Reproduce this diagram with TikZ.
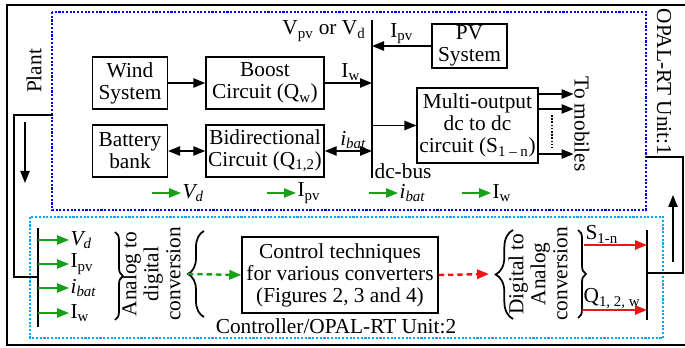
\documentclass[tikz,border=0pt]{standalone}
\usepackage{fontspec}
\setmainfont{Liberation Serif}
\usetikzlibrary{arrows.meta,positioning,decorations.pathreplacing}
\definecolor{sigGreen}{RGB}{24,160,24}
\definecolor{sigRed}{RGB}{240,20,20}
\definecolor{plantBlue}{RGB}{0,0,235}
\definecolor{ctrlCyan}{RGB}{0,170,240}

\begin{document}
\begin{tikzpicture}[x=0.75pt, y=-0.75pt,
  font=\fontsize{16}{16.5}\selectfont,
  blk/.style={draw, line width=1.1pt, align=center, inner sep=1pt},
  arr/.style={-{Triangle[length=9pt,width=7pt]}, line width=1.1pt},
  darr/.style={{Triangle[length=9pt,width=7pt]}-{Triangle[length=9pt,width=7pt]}, line width=1.1pt},
  garr/.style={arr, draw=sigGreen, fill=sigGreen},
  rarr/.style={arr, draw=sigRed, fill=sigRed},
  bar/.style={line width=2pt},
  link/.style={line width=1.8pt},
  unitbox/.style={line width=1.2pt, dash pattern=on 1.6pt off 1.2pt, draw=#1},
  brc/.style={decorate, line width=1.3pt, decoration={brace, amplitude=#1}},
  lbl/.style={inner sep=1pt},
]
\useasboundingbox (0,0) rectangle (685,348);
% frames
\draw[line width=1.5pt] (685,5) -- (7,5) -- (7,345) -- (685,345);
\draw[unitbox=plantBlue] (52,12) rectangle (646,210);
\draw[unitbox=ctrlCyan] (30,217) rectangle (663,338);

% plant side
\node[blk, minimum width=56pt, minimum height=39pt] (wind) at (130,83) {Wind\\System};
\node[blk, minimum width=88.5pt, minimum height=39pt] (boost) at (265,83) {Boost\\Circuit (Q\textsubscript{w})};
\node[blk, minimum width=56pt, minimum height=39pt] (bat) at (130,151) {Battery\\bank};
\node[blk, minimum width=88.5pt, minimum height=39pt] (bid) at (265,151) {Bidirectional\\Circuit (Q\textsubscript{1,2})};
\node[blk, minimum width=56pt, minimum height=33pt] (pv) at (469.5,46) {PV\\System};
\node[blk, minimum width=90.5pt, minimum height=56pt] (multi) at (477.5,125.5) {Multi-output\\dc to dc\\circuit (S\textsubscript{1 -- n})};

\coordinate (busT) at (372,20);
\coordinate (busB) at (372,178);
\draw[bar] (busT) -- (busB);
\node[lbl, anchor=east] (vbus) at (367,31) {V\textsubscript{pv} or V\textsubscript{d}};
\node[lbl, anchor=west] (dcbus) at (373,171) {dc-bus};

\draw[arr] (wind) -- (boost);
\draw[darr] (bat) -- (bid);
\draw[arr] (boost.east) -- (boost.east -| busT) node[lbl, pos=0.55, above] (iw) {I\textsubscript{w}};
\draw[darr] (bid.east) -- (bid.east -| busT) node[lbl, pos=0.6, above] (ibat) {\textit{i\textsubscript{bat}}};
\draw[arr] (pv.west) -- (pv.west -| busT) node[lbl, pos=0.5, above] (ipv) {I\textsubscript{pv}};
\draw[arr] (multi.west -| busT) -- (multi.west);

\draw[arr] ([yshift=23.6pt]multi.east) -- ++(35,0) coordinate (m1);
\draw[arr] ([yshift=12.4pt]multi.east) -- ++(35,0) coordinate (m2);
\draw[arr] ([yshift=-21.4pt]multi.east) -- ++(35,0) coordinate (m3);
\draw[line width=1pt, dash pattern=on 1.2pt off 1.2pt] (552,115) -- (552,148);
\node[lbl, rotate=-90] (mob) at (582,124) {To mobiles};
\node[lbl, rotate=-90] (opal1) at (664,82) {OPAL-RT Unit:1};
\node[lbl, rotate=90] (plant) at (34,71) {Plant};

% measured signals
\node[lbl, anchor=west] (gvd) at (181,193) {\textit{V\textsubscript{d}}};
\node[lbl, anchor=west] (gipv) at (296,193) {I\textsubscript{pv}};
\node[lbl, anchor=west] (gibat) at (398,193) {\textit{i\textsubscript{bat}}};
\node[lbl, anchor=west] (giw) at (491,193) {I\textsubscript{w}};
\foreach \s in {gvd,gipv,gibat,giw}
  \draw[garr] ([xshift=-22pt]\s.west) -- (\s.west);

% links between units
\draw[link] (53,115) -- (14,115) -- (14,277) -- (38,277);
\draw[-{Triangle[length=9pt,width=7pt]}, line width=1pt] (25,122) -- (25,183);
\draw[link] (647,273) -- (683,273) -- (683,157) -- (646,157);
\draw[-{Triangle[length=9pt,width=7pt]}, line width=1pt] (673,262) -- (673,195);

% controller side
\coordinate (lbT) at (38,228);
\coordinate (lbB) at (38,327);
\draw[bar] (lbT) -- (lbB);
\node[lbl, anchor=west] (cvd) at (69,240) {\textit{V\textsubscript{d}}};
\node[lbl, anchor=west] (cipv) at (69,264) {I\textsubscript{pv}};
\node[lbl, anchor=west] (cibat) at (69,288) {\textit{i\textsubscript{bat}}};
\node[lbl, anchor=west] (ciw) at (69,313) {I\textsubscript{w}};
\foreach \s in {cvd,cipv,cibat,ciw}
  \draw[garr] (\s.west -| lbT) -- (\s.west);

\node[lbl, rotate=90, align=center] (adc) at (151,274) {Analog to\\digital\\conversion};
\draw[brc=6pt] (115,232) -- (115,320);
\draw[brc=12pt] (204,317) -- (204,231);
\node[blk, minimum width=147pt, minimum height=57pt] (ctrl) at (340,275) {Control techniques\\for various converters\\(Figures 2, 3 and 4)};
\draw[garr, dash pattern=on 4pt off 3pt, line width=1.8pt] (188,274) -- (ctrl.west);
\node[lbl, rotate=90, align=center] (dac) at (538,274) {Digital to\\Analog\\conversion};
\draw[brc=13pt] (513,319) -- (513,230);
\draw[brc=6pt] (578,230) -- (578,318);
\draw[rarr, dash pattern=on 4pt off 3pt, line width=1.8pt] (ctrl.east) -- (489,274);

\coordinate (rbT) at (647,230);
\coordinate (rbB) at (647,320);
\draw[bar] (rbT) -- (rbB);
\node[lbl, anchor=south west] (sig1) at (584,245) {S\textsubscript{1-n}};
\node[lbl, anchor=south west] (sig2) at (582,310) {Q\textsubscript{1, 2, w}};
\draw[rarr] (sig1.south west) -- (sig1.south west -| rbT);
\draw[rarr] (sig2.south west) -- (sig2.south west -| rbT);

\node[lbl] (opal2) at (336,326) {Controller/OPAL-RT Unit:2};
\end{tikzpicture}
\end{document}
